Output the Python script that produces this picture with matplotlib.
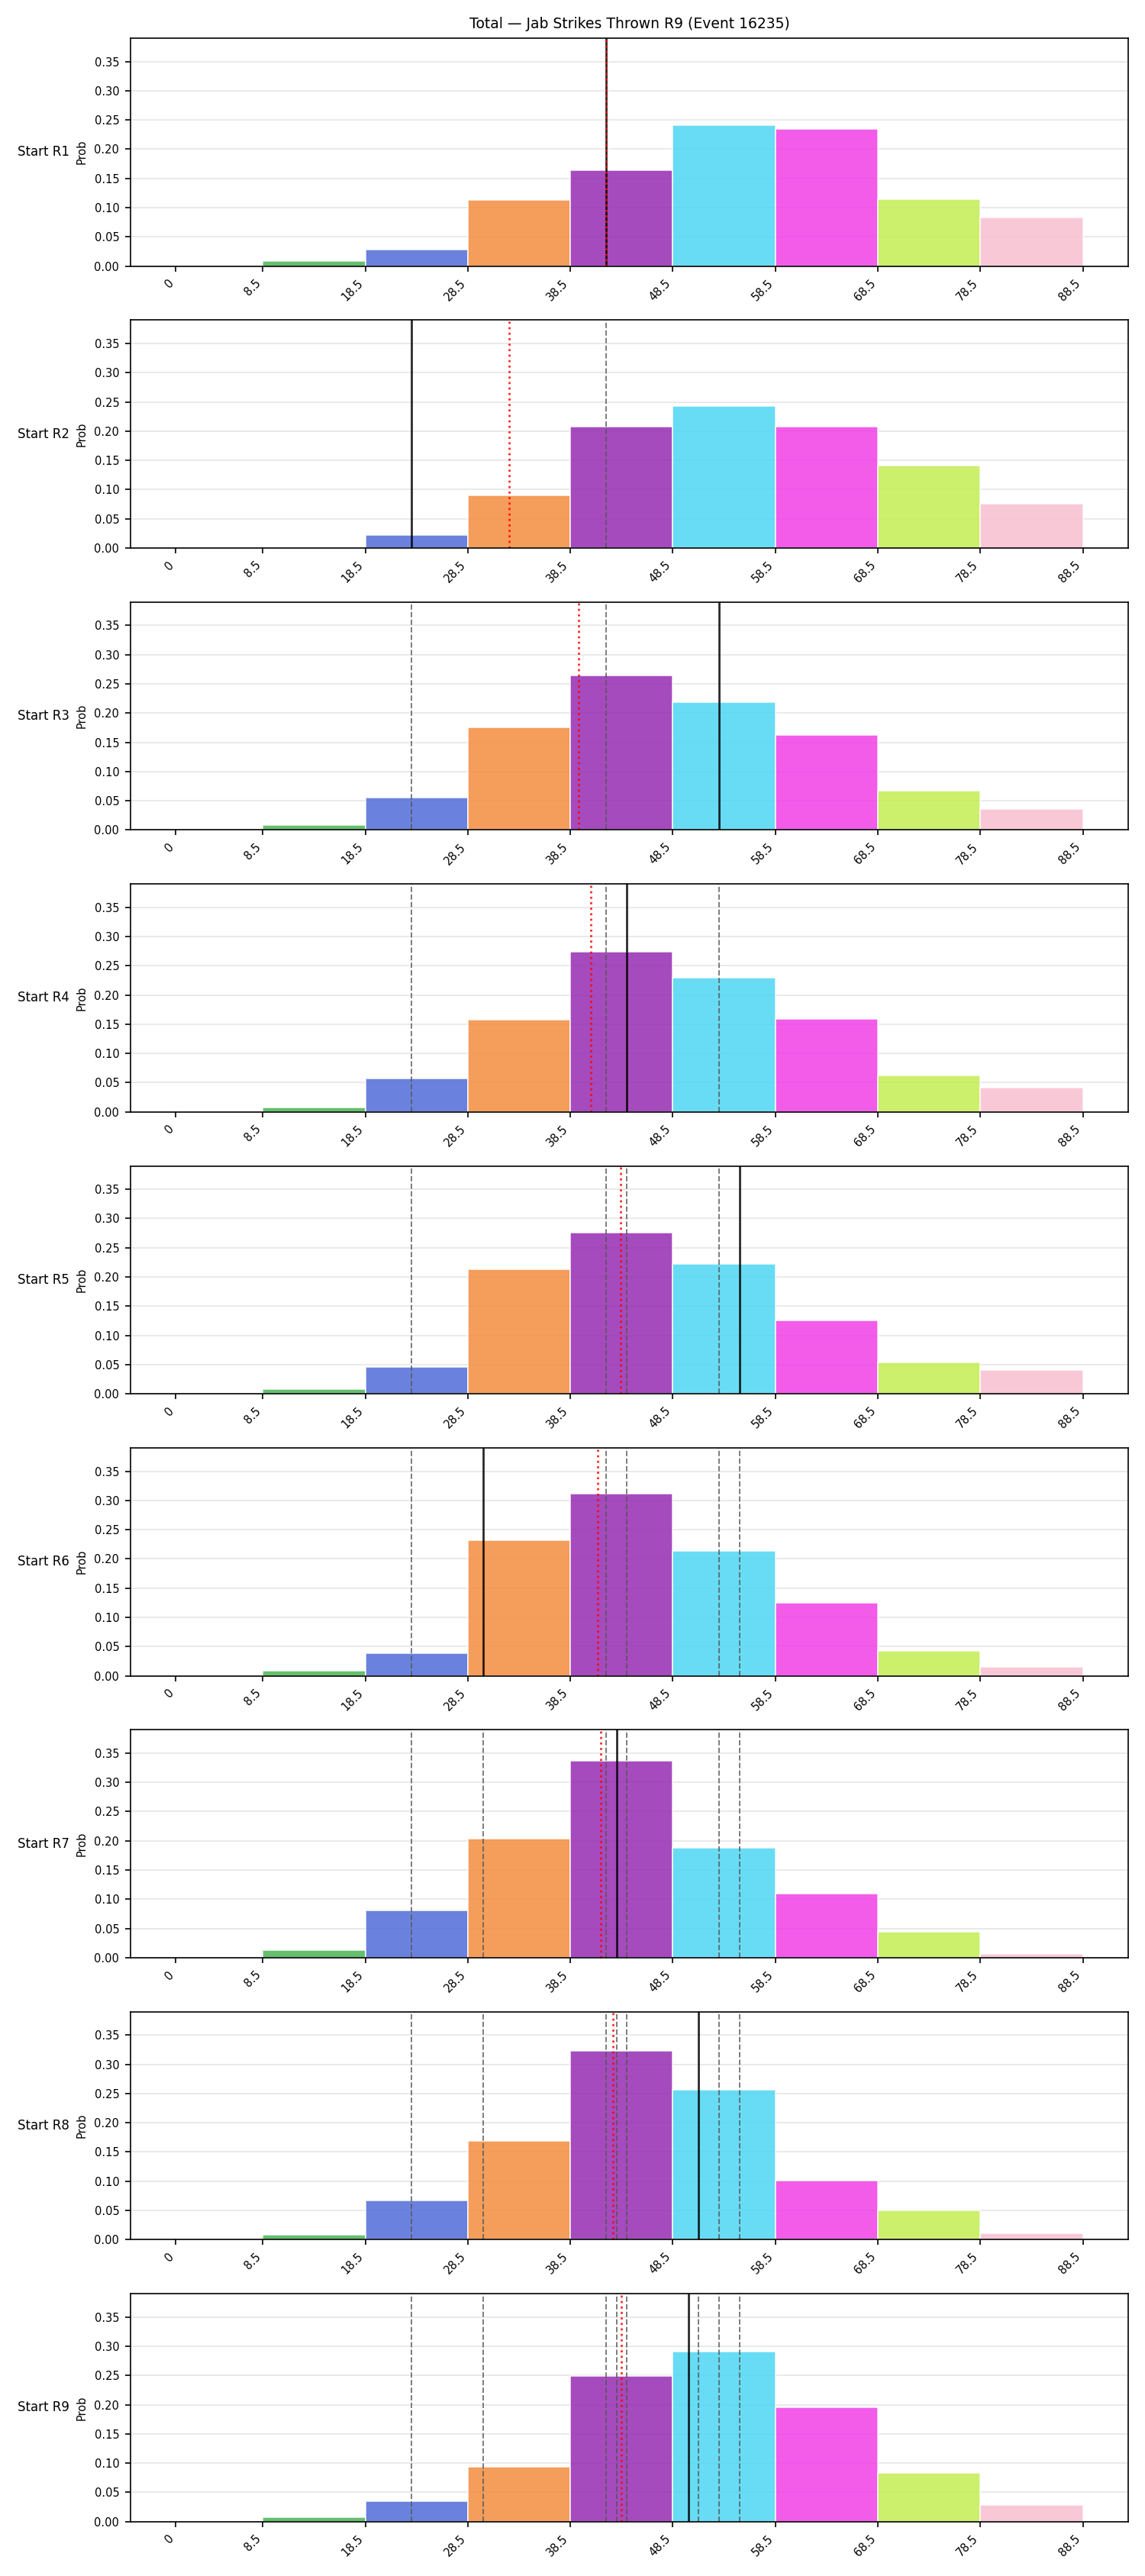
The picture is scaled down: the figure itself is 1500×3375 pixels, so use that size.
import numpy as np
import matplotlib
matplotlib.use("Agg")
import matplotlib.pyplot as plt

# bin edges of the total jab strikes
edges = [0, 8.5, 18.5, 28.5, 38.5, 48.5, 58.5, 68.5, 78.5, 88.5]
tick_labels = ["0", "8.5", "18.5", "28.5", "38.5", "48.5", "58.5", "68.5", "78.5", "88.5"]

# bar colours (drawn with alpha 0.85)
bin_colors = ["#e04040", "#49b554", "#506cd8", "#f48c3d", "#952bb2",
              "#4dd6f3", "#f03fe6", "#c4ed52", "#f8bfd1"]

rounds = ["Start R1", "Start R2", "Start R3", "Start R4", "Start R5",
          "Start R6", "Start R7", "Start R8", "Start R9"]

# probability of each bin, one list per starting round
prob_r1 = [0, 0.0086, 0.028, 0.113, 0.164, 0.2415, 0.235, 0.1147, 0.0826]
prob_r2 = [0, 0.0, 0.0225, 0.0905, 0.2076, 0.2428, 0.2076, 0.1407, 0.0761]
prob_r3 = [0, 0.0086, 0.0557, 0.1756, 0.2645, 0.2186, 0.163, 0.0677, 0.0361]
prob_r4 = [0, 0.0081, 0.0571, 0.158, 0.2734, 0.2295, 0.1592, 0.0623, 0.041]
prob_r5 = [0, 0.008, 0.046, 0.2132, 0.2759, 0.2224, 0.1259, 0.054, 0.0408]
prob_r6 = [0, 0.0086, 0.0386, 0.232, 0.3109, 0.2136, 0.1249, 0.0426, 0.015]
prob_r7 = [0, 0.0133, 0.0807, 0.2036, 0.3374, 0.188, 0.109, 0.0438, 0.0069]
prob_r8 = [0, 0.0086, 0.0672, 0.169, 0.323, 0.2563, 0.1011, 0.05, 0.0109]
prob_r9 = [0, 0.0074, 0.0349, 0.0938, 0.2496, 0.2914, 0.1959, 0.0833, 0.0284]
probs = [prob_r1, prob_r2, prob_r3, prob_r4, prob_r5, prob_r6, prob_r7, prob_r8, prob_r9]

# actual jab totals per round
actual = [42, 23, 53, 44, 55, 30, 43, 51, 50]

edges = np.array(edges)
widths = np.diff(edges)

fig, axes = plt.subplots(9, 1, figsize=(10, 22.5), dpi=150)
fig.subplots_adjust(left=0.1139, right=0.9853, top=0.98519, bottom=0.02113, hspace=0.237)

for i, ax in enumerate(axes):
    ax.set_axisbelow(True)
    ax.grid(axis="y", color="#e6e6e6", linewidth=0.8)
    ax.bar(edges[:-1], probs[i], width=widths, align="edge", color=bin_colors,
           alpha=0.85, edgecolor="white", linewidth=0.8)

    # earlier rounds
    for v in actual[:i]:
        ax.axvline(v, color="#555555", linestyle="--", linewidth=0.9, alpha=0.8)
    # this round
    ax.axvline(actual[i], color="black", linewidth=1.3, alpha=0.85)
    # running mean
    ax.axvline(np.mean(actual[:i + 1]), color="red", linestyle=":", linewidth=1.3, alpha=0.85)

    ax.set_xlim(-4.425, 92.925)
    ax.set_ylim(0, 0.39)
    ax.set_yticks(np.arange(0, 0.36, 0.05))
    ax.set_xticks(edges)
    ax.set_xticklabels(tick_labels, rotation=45, ha="right")
    ax.tick_params(labelsize=7)
    ax.set_ylabel("Prob", fontsize=7)
    ax.text(-0.061, 0.5, rounds[i], transform=ax.transAxes, ha="right", va="center", fontsize=8)

axes[0].set_title("Total \u2014 Jab Strikes Thrown R9 (Event 16235)", fontsize=9)

plt.savefig("out.png", dpi=150)
